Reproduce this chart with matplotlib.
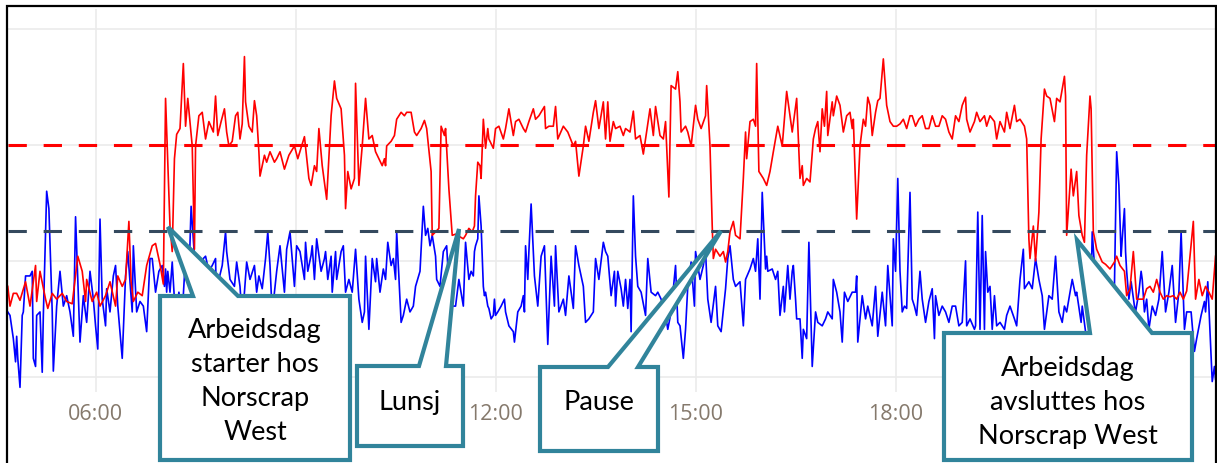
import matplotlib.pyplot as plt
import numpy as np
from matplotlib.patches import Polygon

# Readings: (minutes after midnight, value)
red_pts = [
    (281, 7.8), (283, 6.1), (286, 7.2), (289, 7.2), (292, 6.6), (297, 8.2), (301, 6.1), (306, 9.6), (307, 6.5), (310, 9.1),
    (315, 6.7), (317, 5.9), (321, 7.2), (325, 6.7), (330, 7.2), (334, 6.5), (339, 6.3), (344, 10.4), (348, 9.1), (351, 6.5),
    (352, 8.4), (357, 6.5), (361, 7.3), (364, 6.1), (369, 7.0), (373, 8.2), (378, 6.1), (380, 8.7), (384, 7.8), (387, 8.4),
    (390, 13.4), (392, 8.2), (394, 6.5), (398, 7.3), (402, 7.0), (406, 9.6), (411, 11.3), (414, 11.5), (418, 9.7), (421, 8.0),
    (423, 24.0), (427, 13.0), (429, 10.8), (431, 18.8), (433, 20.9), (436, 21.4), (439, 27.0), (441, 21.6), (443, 24.0), (447, 19.9),
    (449, 11.0), (450, 19.9), (453, 22.5), (456, 22.8), (459, 20.5), (462, 22.0), (466, 21.1), (468, 24.2), (470, 20.8), (473, 22.0),
    (476, 23.1), (478, 21.1), (480, 19.9), (483, 20.3), (486, 22.5), (488, 22.8), (490, 20.5), (492, 21.8), (494, 27.6), (495, 23.7),
    (498, 21.6), (501, 21.1), (503, 23.8), (505, 22.5), (507, 19.4), (508, 17.3), (512, 19.1), (514, 18.5), (517, 19.4), (521, 18.5),
    (523, 18.8), (526, 19.4), (530, 17.9), (534, 19.1), (539, 19.9), (542, 18.8), (548, 20.7), (552, 17.1), (554, 16.5), (557, 18.2),
    (559, 17.7), (561, 21.4), (564, 18.2), (568, 15.3), (572, 22.5), (575, 25.5), (577, 24.0), (581, 23.1), (584, 19.1), (585, 14.5),
    (587, 17.7), (590, 16.2), (593, 17.1), (594, 25.3), (597, 16.5), (600, 19.9), (603, 24.0), (606, 20.5), (609, 20.8), (612, 19.4),
    (615, 18.8), (618, 18.2), (620, 18.8), (621, 18.2), (622, 19.9), (626, 20.3), (629, 20.8), (631, 22.2), (635, 22.8), (638, 22.5),
    (640, 22.8), (644, 22.8), (647, 21.1), (649, 20.8), (653, 21.4), (656, 22.1), (658, 21.4), (662, 17.7), (663, 12.2), (667, 12.6),
    (669, 12.8), (671, 21.6), (674, 20.8), (675, 21.4), (678, 16.2), (681, 12.2), (684, 12.3), (691, 11.9), (693, 12.2), (696, 12.8),
    (699, 12.5), (701, 13.0), (702, 15.6), (704, 18.5), (706, 18.2), (707, 17.1), (709, 22.2), (711, 19.7), (713, 21.4), (714, 20.5),
    (718, 19.7), (720, 21.4), (723, 21.6), (727, 20.5), (729, 21.4), (732, 23.1), (736, 20.8), (738, 22.0), (741, 22.2), (745, 21.4),
    (747, 21.1), (750, 22.0), (754, 23.1), (756, 22.2), (759, 22.5), (764, 23.3), (765, 21.4), (768, 21.6), (772, 21.6), (774, 23.3),
    (776, 20.5), (781, 21.6), (785, 21.1), (790, 19.9), (792, 20.3), (795, 17.3), (799, 19.9), (801, 21.6), (804, 20.3), (808, 22.8),
    (810, 23.8), (813, 21.4), (817, 23.7), (819, 20.5), (821, 23.7), (823, 20.3), (826, 22.0), (828, 21.4), (832, 21.6), (835, 20.8),
    (837, 21.4), (841, 21.1), (844, 22.9), (846, 20.5), (850, 20.8), (853, 19.2), (855, 20.5), (859, 23.1), (862, 20.8), (864, 23.3),
    (868, 20.8), (871, 20.5), (873, 22.0), (876, 15.5), (878, 25.1), (882, 24.8), (884, 26.3), (886, 23.7), (887, 21.1), (891, 21.6),
    (893, 21.1), (896, 19.9), (900, 23.4), (902, 22.2), (905, 21.4), (909, 22.5), (910, 25.1), (913, 19.9), (915, 13.0), (916, 10.2),
    (918, 11.0), (922, 10.4), (925, 10.8), (927, 9.9), (929, 10.8), (931, 12.5), (934, 13.4), (936, 12.2), (940, 11.9), (943, 17.1),
    (945, 21.1), (946, 18.8), (949, 22.0), (952, 22.2), (954, 21.6), (955, 27.0), (957, 17.7), (961, 17.1), (964, 16.5), (967, 17.7),
    (970, 19.4), (974, 21.6), (978, 19.9), (982, 24.6), (987, 21.1), (991, 24.0), (994, 17.1), (996, 18.2), (997, 16.5), (1000, 17.1),
    (1003, 16.8), (1006, 20.5), (1008, 21.4), (1010, 22.0), (1012, 19.4), (1014, 23.1), (1016, 21.6), (1018, 24.6), (1019, 20.8), (1023, 23.7),
    (1024, 22.5), (1027, 24.2), (1030, 23.4), (1033, 21.1), (1036, 22.5), (1039, 22.8), (1041, 21.4), (1042, 22.2), (1045, 13.6), (1048, 19.9),
    (1051, 22.2), (1053, 21.6), (1055, 24.1), (1057, 23.4), (1059, 20.8), (1062, 22.8), (1064, 23.8), (1066, 24.0), (1069, 27.4), (1072, 23.4),
    (1075, 22.0), (1078, 21.6), (1081, 21.6), (1084, 21.8), (1087, 22.2), (1090, 21.4), (1093, 22.5), (1095, 22.5), (1098, 21.6), (1101, 22.2),
    (1104, 22.5), (1107, 21.4), (1110, 21.4), (1113, 22.5), (1116, 21.6), (1119, 21.6), (1122, 22.5), (1125, 22.2), (1128, 21.1), (1131, 20.5),
    (1134, 22.5), (1137, 22.0), (1140, 23.4), (1143, 24.1), (1144, 22.2), (1147, 21.1), (1151, 22.0), (1153, 22.8), (1156, 22.0), (1160, 22.5),
    (1162, 21.6), (1165, 22.5), (1169, 22.0), (1171, 20.5), (1174, 22.0), (1178, 21.1), (1180, 22.8), (1183, 21.4), (1187, 23.4), (1189, 22.0),
    (1192, 22.2), (1196, 21.6), (1198, 20.5), (1200, 11.9), (1201, 10.2), (1204, 13.0), (1206, 10.0), (1209, 14.2), (1211, 20.5), (1214, 24.8),
    (1216, 24.2), (1219, 24.0), (1223, 22.0), (1225, 24.0), (1228, 23.7), (1232, 25.9), (1233, 24.2), (1234, 12.2), (1238, 17.9), (1240, 15.6),
    (1243, 17.7), (1245, 13.9), (1248, 12.2), (1250, 11.6), (1252, 19.1), (1255, 24.2), (1256, 23.1), (1258, 12.5), (1261, 11.0), (1266, 9.9),
    (1269, 9.7), (1273, 9.3), (1277, 9.9), (1279, 10.4), (1282, 9.6), (1286, 9.1), (1288, 7.0), (1291, 7.6), (1294, 10.8), (1297, 6.7),
    (1300, 6.7), (1303, 6.7), (1306, 7.6), (1309, 7.8), (1312, 7.3), (1315, 8.4), (1318, 7.3), (1321, 6.7), (1324, 7.0), (1327, 6.9),
    (1330, 7.0), (1333, 6.7), (1336, 7.3), (1339, 6.7), (1342, 7.4), (1348, 13.4), (1350, 6.7), (1353, 8.4), (1356, 7.0), (1359, 7.8),
    (1362, 7.3), (1365, 6.7), (1368, 10.4),
]

blue_pts = [
    (281, 5.6), (283, 5.3), (286, 3.3), (288, 1.3), (289, 3.5), (290, 1.6), (292, -0.9), (294, 5.3), (295, 5.6), (297, 8.7),
    (301, 8.7), (303, 9.1), (304, 1.6), (306, 0.9), (307, 5.3), (310, 5.6), (312, 0.4), (313, 5.3), (316, 16.0), (318, 14.5),
    (321, 5.6), (322, 0.5), (325, 6.1), (328, 9.1), (331, 6.1), (334, 7.0), (337, 5.6), (340, 3.5), (342, 13.8), (346, 3.0),
    (349, 7.0), (352, 4.7), (355, 9.1), (358, 6.7), (360, 4.4), (362, 2.4), (364, 13.6), (366, 6.7), (369, 4.4), (370, 7.6),
    (373, 5.6), (376, 8.7), (378, 9.6), (380, 6.1), (384, 1.6), (387, 8.7), (389, 10.8), (393, 5.6), (394, 11.3), (397, 5.6),
    (400, 6.5), (403, 6.1), (406, 3.9), (409, 10.2), (411, 10.2), (414, 7.3), (417, 9.1), (420, 9.6), (422, 7.8), (423, 9.3),
    (424, 7.3), (425, 9.1), (427, 7.3), (429, 9.9), (432, 5.0), (435, 7.3), (438, 5.4), (441, 10.4), (444, 8.4), (446, 14.7),
    (449, 10.4), (451, 9.1), (454, 5.9), (457, 10.2), (459, 10.4), (462, 9.1), (465, 9.6), (468, 10.2), (469, 5.2), (471, 8.4),
    (474, 9.6), (477, 12.5), (478, 10.8), (481, 8.4), (485, 7.8), (487, 9.9), (490, 7.8), (492, 5.0), (494, 7.3), (496, 9.9),
    (499, 8.4), (503, 9.6), (505, 7.3), (507, 8.7), (510, 7.6), (513, 10.2), (515, 12.5), (517, 9.6), (519, 5.4), (521, 7.3),
    (523, 9.1), (526, 11.3), (530, 7.3), (532, 11.0), (535, 12.5), (539, 7.8), (541, 11.3), (544, 10.8), (548, 8.4), (549, 11.6),
    (551, 9.1), (554, 10.5), (555, 11.3), (557, 8.4), (559, 11.9), (563, 9.1), (566, 10.2), (567, 10.8), (569, 8.4), (572, 10.4),
    (573, 7.3), (576, 10.8), (577, 8.4), (581, 10.8), (583, 11.3), (585, 7.3), (588, 8.4), (591, 7.3), (594, 11.0), (597, 6.7),
    (600, 4.7), (602, 5.6), (603, 10.4), (606, 4.1), (609, 10.2), (612, 8.2), (613, 10.2), (616, 7.3), (619, 9.3), (621, 8.4),
    (623, 11.6), (626, 9.6), (628, 10.2), (630, 8.4), (631, 12.5), (635, 4.7), (637, 5.3), (640, 6.7), (643, 5.6), (646, 6.1),
    (648, 7.8), (652, 9.1), (655, 14.7), (657, 12.2), (659, 12.8), (661, 11.3), (663, 12.2), (666, 10.4), (667, 8.4), (670, 7.8),
    (673, 10.8), (676, 11.3), (679, 6.1), (684, 6.1), (687, 8.4), (691, 6.1), (693, 11.6), (696, 8.4), (698, 9.1), (700, 8.7),
    (701, 10.8), (702, 11.3), (704, 11.9), (705, 15.6), (707, 13.0), (709, 7.8), (710, 7.0), (711, 7.3), (713, 6.1), (714, 5.9),
    (716, 5.0), (718, 5.3), (719, 6.7), (720, 5.3), (722, 5.6), (725, 6.1), (728, 6.7), (729, 5.6), (732, 4.4), (736, 3.9),
    (737, 3.0), (740, 5.6), (743, 6.1), (745, 7.0), (746, 5.6), (747, 11.3), (749, 8.4), (750, 10.8), (752, 14.9), (755, 8.7),
    (758, 6.1), (761, 10.4), (764, 11.3), (767, 2.8), (770, 10.4), (773, 6.1), (774, 11.3), (777, 5.6), (781, 6.7), (783, 5.3),
    (786, 8.7), (790, 5.9), (792, 11.3), (795, 9.6), (799, 7.8), (801, 4.7), (804, 5.0), (808, 5.6), (810, 10.2), (813, 8.4),
    (817, 11.6), (819, 10.8), (821, 10.4), (824, 7.0), (827, 9.1), (828, 6.1), (830, 9.1), (833, 7.6), (835, 6.1), (837, 8.4),
    (839, 5.9), (841, 8.4), (842, 3.9), (844, 15.6), (846, 10.4), (848, 7.8), (851, 7.3), (855, 5.3), (857, 10.2), (860, 7.3),
    (864, 7.0), (866, 7.3), (869, 6.7), (873, 5.3), (875, 4.1), (878, 5.6), (882, 9.6), (884, 4.7), (886, 4.4), (889, 1.6),
    (891, 4.1), (893, 7.8), (896, 9.9), (899, 6.1), (900, 10.8), (904, 8.4), (907, 9.6), (909, 10.8), (911, 6.7), (914, 4.7),
    (918, 7.8), (920, 4.4), (923, 3.9), (927, 7.6), (929, 10.2), (931, 11.3), (934, 8.4), (936, 7.8), (940, 8.2), (943, 4.4),
    (945, 8.4), (949, 9.3), (952, 10.2), (954, 9.1), (956, 11.9), (958, 6.7), (960, 15.9), (963, 9.3), (964, 10.4), (965, 9.1),
    (969, 9.3), (972, 8.4), (974, 9.1), (976, 5.3), (979, 7.8), (980, 5.6), (983, 9.6), (985, 6.7), (987, 9.1), (988, 9.6),
    (990, 6.7), (991, 5.0), (994, 5.0), (996, 1.6), (997, 4.1), (1000, 3.3), (1002, 11.6), (1005, 0.9), (1008, 5.6), (1010, 4.7),
    (1014, 4.4), (1017, 5.0), (1019, 5.6), (1023, 5.0), (1024, 8.4), (1027, 7.3), (1030, 5.6), (1032, 3.0), (1034, 7.3), (1037, 6.5),
    (1041, 7.3), (1044, 7.3), (1045, 8.7), (1046, 3.0), (1050, 7.0), (1053, 5.0), (1055, 6.1), (1059, 4.4), (1062, 7.8), (1064, 3.5),
    (1068, 7.3), (1071, 4.4), (1073, 9.6), (1077, 4.4), (1078, 11.9), (1080, 9.1), (1082, 17.1), (1084, 9.1), (1086, 5.6), (1088, 6.1),
    (1090, 5.9), (1093, 15.9), (1095, 6.7), (1097, 6.1), (1099, 5.3), (1102, 9.1), (1104, 6.7), (1107, 4.7), (1110, 6.5), (1113, 7.6),
    (1115, 3.3), (1116, 7.0), (1119, 5.3), (1122, 6.1), (1125, 5.6), (1128, 4.7), (1131, 6.1), (1134, 6.1), (1137, 4.4), (1140, 4.7),
    (1143, 10.0), (1144, 4.4), (1147, 5.0), (1151, 4.1), (1152, 4.4), (1154, 14.2), (1156, 4.1), (1158, 13.9), (1160, 4.1), (1161, 10.8),
    (1163, 7.3), (1165, 7.8), (1167, 4.1), (1169, 7.0), (1171, 4.4), (1174, 4.7), (1178, 4.1), (1180, 5.3), (1183, 6.1), (1187, 5.0),
    (1189, 4.4), (1192, 8.4), (1195, 11.0), (1196, 7.6), (1200, 8.2), (1203, 7.6), (1206, 10.2), (1209, 8.4), (1212, 7.0), (1214, 4.1),
    (1218, 7.0), (1221, 6.7), (1224, 10.4), (1227, 5.6), (1230, 4.7), (1232, 6.1), (1234, 5.6), (1239, 8.4), (1242, 7.0), (1243, 7.3),
    (1247, 4.7), (1248, 6.1), (1251, 3.9), (1255, 3.3), (1257, 12.5), (1259, 9.6), (1261, 6.7), (1264, 4.1), (1269, 5.0), (1273, 6.7),
    (1277, 7.8), (1279, 19.4), (1281, 16.5), (1283, 10.4), (1284, 11.9), (1286, 14.5), (1287, 10.8), (1288, 9.1), (1290, 6.7), (1292, 8.2),
    (1295, 6.1), (1296, 5.6), (1299, 7.3), (1301, 9.1), (1302, 8.4), (1304, 5.6), (1306, 6.7), (1308, 4.1), (1311, 6.1), (1314, 5.3),
    (1317, 6.7), (1320, 10.8), (1323, 5.6), (1326, 7.3), (1329, 9.6), (1332, 4.7), (1335, 7.3), (1337, 12.5), (1340, 4.1), (1342, 5.6),
    (1346, 5.6), (1349, 2.2), (1351, 3.3), (1355, 5.3), (1358, 6.5), (1359, 5.6), (1361, 8.2), (1364, 1.6), (1365, -0.4), (1367, 0.9),
    (1368, -0.2),
]

red_ref = 20.0
blue_ref = 12.6

tick_minutes = [360, 540, 720, 900, 1080, 1260]
# 09:00 and 21:00 sit behind the callouts in the reference
tick_labels = ['06:00', '', '12:00', '15:00', '18:00', '']

W, H = 1217, 464
fig = plt.figure(figsize=(W / 100, H / 100), dpi=100)
ax = fig.add_axes([8 / W, 1 - 393 / H, 1207 / W, 383 / H])

red_t, red_v = np.array(red_pts).T
blue_t, blue_v = np.array(blue_pts).T
ax.plot(blue_t, blue_v, color='#0000ff', lw=1.2, zorder=3)
ax.plot(red_t, red_v, color='#ff0000', lw=1.2, zorder=4)
ax.axhline(red_ref, color='#ff0000', lw=2.2, ls=(0, (6, 5.5)), zorder=5)
ax.axhline(blue_ref, color='#34495e', lw=2.2, ls=(0, (6, 5.5)), zorder=5)

ax.set_xlim(281.2, 1367.5)
ax.set_ylim(-1.3, 31.7)
ax.set_xticks(tick_minutes)
ax.set_xticklabels(tick_labels, fontfamily='Open Sans', fontsize=15.5, color='#85796c')
ax.set_yticks([0, 10, 20, 30])
ax.set_yticklabels([])
ax.tick_params(length=0)
ax.tick_params(axis='x', pad=8)
ax.grid(True, color='#ebebeb', lw=1.2, zorder=0)
for s in ax.spines.values():
    s.set_visible(False)

# overlay in image pixels for frame and callouts
ov = fig.add_axes([0, 0, 1, 1], facecolor='none')
ov.set_xlim(0, W)
ov.set_ylim(H, 0)
ov.axis('off')

ov.plot([7, 7, 1216, 1216], [H, 7, 7, H], color='black', lw=1.6, solid_joinstyle='miter')

teal = '#31849b'


def callout(box, base, tip, text, text_y):
    x0, y0, x1, y1 = box
    pts = [(x0, y0), (base[0], y0), tip, (base[1], y0), (x1, y0), (x1, y1), (x0, y1)]
    ov.add_patch(Polygon(pts, closed=True, fc='white', ec=teal, lw=3, joinstyle='miter', zorder=10))
    ov.text((x0 + x1) / 2, text_y, text, ha='center', va='center', fontsize=19.5,
            fontfamily='Lato', linespacing=1.45, zorder=11)


callout((160, 297, 350, 461), (193, 238), (168, 228), 'Arbeidsdag\nstarter hos\nNorscrap\nWest', 382)
callout((357, 367, 463, 447), (419, 446), (459, 230), 'Lunsj', 403)
callout((540, 368, 658, 452), (608, 638), (721, 232), 'Pause', 403)
callout((944, 334, 1192, 461), (1090, 1152), (1077, 241), 'Arbeidsdag\navsluttes hos\nNorscrap West', 403)

fig.savefig('out.png', dpi=100)
